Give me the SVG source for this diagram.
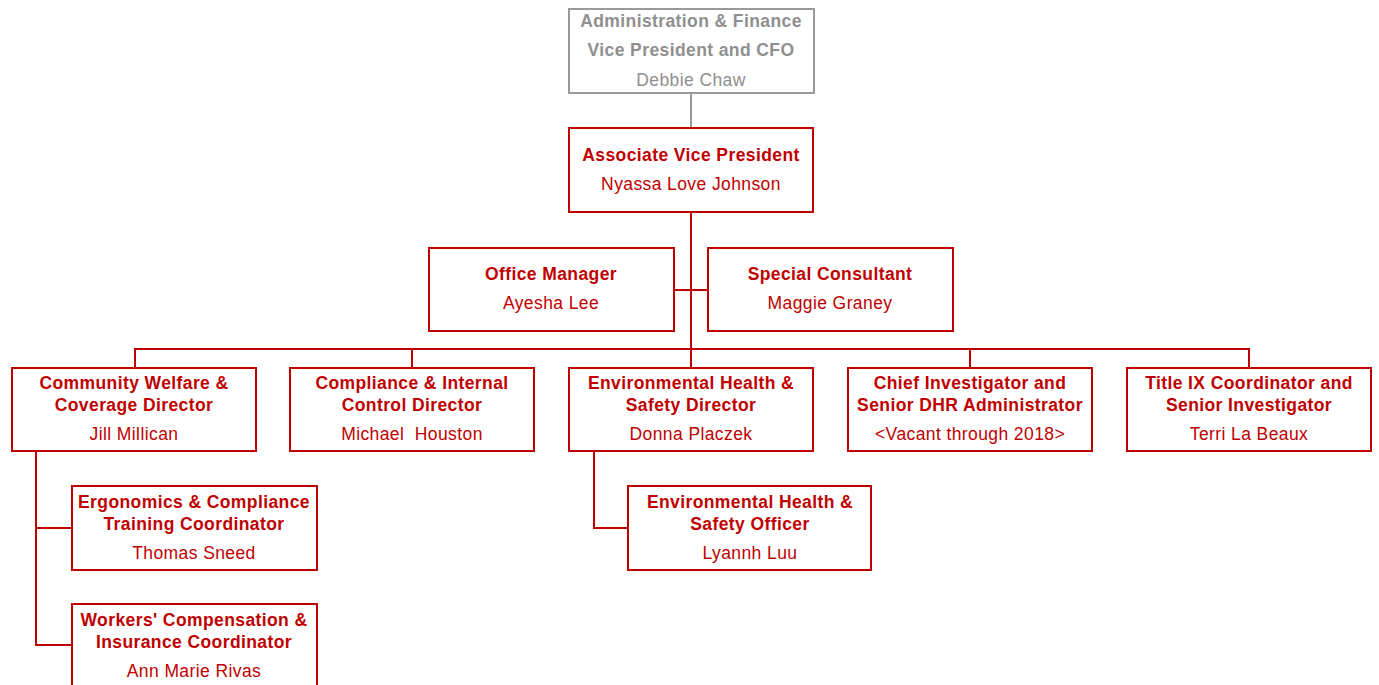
<svg xmlns="http://www.w3.org/2000/svg" width="1379" height="685" viewBox="0 0 1379 685">
<style>
.box{fill:#fff;stroke:#C00000;stroke-width:2}
.gbox{fill:#fff;stroke:#9a9a9a;stroke-width:2}
text{font-family:"Liberation Sans",Arial,sans-serif;font-size:17.5px;letter-spacing:0.4px;text-anchor:middle;dominant-baseline:central}
.t{font-weight:bold;fill:#C00000}
.n{fill:#C00000}
.gt{font-weight:bold;fill:#8f8f8f}
.gn{fill:#8f8f8f}
.c{fill:none;stroke:#C00000;stroke-width:2}
.gc{fill:none;stroke:#9a9a9a;stroke-width:2}
</style>
<rect width="1379" height="685" fill="#fff"/>
<g id="connectors">
<line class="gc" x1="691" y1="93" x2="691" y2="128"/>
<line class="c" x1="691" y1="212" x2="691" y2="368"/>
<line class="c" x1="674" y1="290" x2="708" y2="290"/>
<polyline class="c" points="135,368 135,349 1249,349 1249,368"/>
<line class="c" x1="412" y1="349" x2="412" y2="368"/>
<line class="c" x1="970" y1="349" x2="970" y2="368"/>
<polyline class="c" points="36,451 36,645 72,645"/>
<line class="c" x1="36" y1="528" x2="72" y2="528"/>
<polyline class="c" points="594,451 594,528 628,528"/>
</g>
<g id="cfo">
<rect class="gbox" x="569" y="9" width="245" height="84"/>
<text class="gt" x="691" y="21">Administration &amp; Finance</text>
<text class="gt" x="691" y="50">Vice President and CFO</text>
<text class="gn" x="691" y="80">Debbie Chaw</text>
</g>
<g id="avp">
<rect class="box" x="569" y="128" width="244" height="84"/>
<text class="t" x="691" y="155">Associate Vice President</text>
<text class="n" x="691" y="184">Nyassa Love Johnson</text>
</g>
<g id="office-manager">
<rect class="box" x="429" y="248" width="245" height="83"/>
<text class="t" x="551" y="274">Office Manager</text>
<text class="n" x="551" y="303">Ayesha Lee</text>
</g>
<g id="special-consultant">
<rect class="box" x="708" y="248" width="245" height="83"/>
<text class="t" x="830" y="274">Special Consultant</text>
<text class="n" x="830" y="303">Maggie Graney</text>
</g>
<g id="community-welfare">
<rect class="box" x="12" y="368" width="244" height="83"/>
<text class="t" x="134" y="383">Community Welfare &amp;</text>
<text class="t" x="134" y="405">Coverage Director</text>
<text class="n" x="134" y="434">Jill Millican</text>
</g>
<g id="compliance">
<rect class="box" x="290" y="368" width="244" height="83"/>
<text class="t" x="412" y="383">Compliance &amp; Internal</text>
<text class="t" x="412" y="405">Control Director</text>
<text class="n" x="412" y="434" xml:space="preserve">Michael  Houston</text>
</g>
<g id="ehs-director">
<rect class="box" x="569" y="368" width="244" height="83"/>
<text class="t" x="691" y="383">Environmental Health &amp;</text>
<text class="t" x="691" y="405">Safety Director</text>
<text class="n" x="691" y="434">Donna Placzek</text>
</g>
<g id="chief-investigator">
<rect class="box" x="848" y="368" width="244" height="83"/>
<text class="t" x="970" y="383">Chief Investigator and</text>
<text class="t" x="970" y="405">Senior DHR Administrator</text>
<text class="n" x="970" y="434">&lt;Vacant through 2018&gt;</text>
</g>
<g id="title-ix">
<rect class="box" x="1127" y="368" width="244" height="83"/>
<text class="t" x="1249" y="383">Title IX Coordinator and</text>
<text class="t" x="1249" y="405">Senior Investigator</text>
<text class="n" x="1249" y="434">Terri La Beaux</text>
</g>
<g id="ergonomics">
<rect class="box" x="72" y="486" width="245" height="84"/>
<text class="t" x="194" y="502">Ergonomics &amp; Compliance</text>
<text class="t" x="194" y="524">Training Coordinator</text>
<text class="n" x="194" y="553">Thomas Sneed</text>
</g>
<g id="workers-comp">
<rect class="box" x="72" y="604" width="245" height="90"/>
<text class="t" x="194" y="620">Workers' Compensation &amp;</text>
<text class="t" x="194" y="642">Insurance Coordinator</text>
<text class="n" x="194" y="671">Ann Marie Rivas</text>
</g>
<g id="ehs-officer">
<rect class="box" x="628" y="486" width="243" height="84"/>
<text class="t" x="750" y="502">Environmental Health &amp;</text>
<text class="t" x="750" y="524">Safety Officer</text>
<text class="n" x="750" y="553">Lyannh Luu</text>
</g>
</svg>
